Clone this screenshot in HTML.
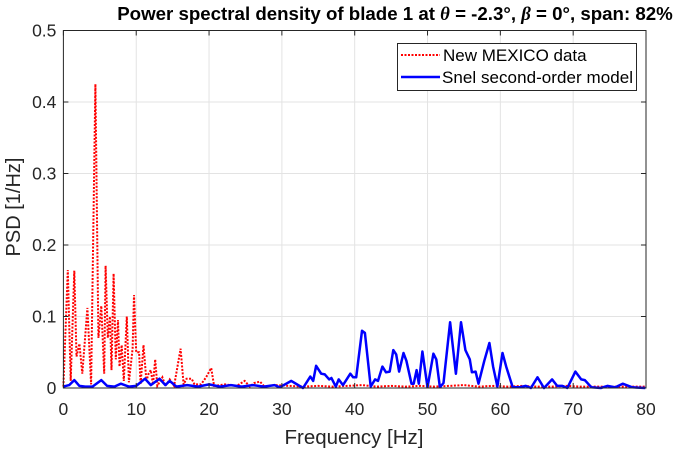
<!DOCTYPE html>
<html><head><meta charset="utf-8"><style>
body{margin:0;background:#fff;}
svg text{font-family:"Liberation Sans",Arial,sans-serif;}
</style></head><body>
<svg id="chart" width="682" height="453" xmlns="http://www.w3.org/2000/svg">
<rect width="682" height="453" fill="#fff"/>
<g id="grid"></g>
<g id="series"></g>
<rect x="63.4" y="30.5" width="582.6" height="357.5" fill="none" stroke="#262626" stroke-width="1"/>
<g id="ticks"></g>
<text x="395" y="20" text-anchor="middle" font-size="18.7" font-weight="bold" fill="#000">Power spectral density of blade 1 at <tspan font-family="Liberation Serif" font-style="italic">θ</tspan> = -2.3°, <tspan font-family="Liberation Serif" font-style="italic">β</tspan> = 0°, span: 82%</text>
<text x="354" y="444" text-anchor="middle" font-size="20.5" fill="#262626">Frequency [Hz]</text>
<text transform="translate(20,207) rotate(-90)" text-anchor="middle" font-size="20" fill="#262626">PSD [1/Hz]</text>
<g>
<rect x="397.5" y="43.5" width="239" height="47" fill="#fff" stroke="#262626" stroke-width="1"/>
<line x1="401" y1="55" x2="440" y2="55" stroke="#ff0000" stroke-width="2" stroke-dasharray="2,1.5"/>
<text x="443" y="61" font-size="17" fill="#000">New MEXICO data</text>
<line x1="401" y1="77" x2="440" y2="77" stroke="#0000ff" stroke-width="2.5"/>
<text x="442" y="83" font-size="17" textLength="191" fill="#000">Snel second-order model</text>
</g>
</svg>
<script>
const xTicks=[0,10,20,30,40,50,60,70,80];
const yTicks=[0,0.1,0.2,0.3,0.4,0.5];
const yTickLabels=["0","0.1","0.2","0.3","0.4","0.5"];
const redFreq=[0,0.6,1.0,1.5,1.8,2.2,2.6,3.3,3.8,4.4,4.8,5.2,5.6,5.8,6.1,6.4,6.6,6.9,7.2,7.5,7.7,8.0,8.3,8.7,9.0,9.5,9.7,10.0,10.4,10.6,11.0,11.4,11.7,12.0,12.3,12.6,12.9,13.6,14.0,14.6,15.2,16.1,16.5,16.9,17.6,18.0,18.9,19.6,20.3,20.7,22.2,23.8,24.9,25.6,26.2,27.0,27.6,29,31,33,35,37,39,41,43,45,47,49,51,53,55,57,59,61,63,65,67,69,71,73,75,77,79,80];
const redVal=[0.002,0.165,0.01,0.164,0.044,0.062,0.02,0.112,0.005,0.425,0.07,0.115,0.02,0.171,0.07,0.1,0.025,0.16,0.04,0.095,0.03,0.06,0.01,0.1,0.008,0.055,0.13,0.05,0.05,0.005,0.06,0.01,0.02,0.025,0.005,0.04,0.003,0.015,0.003,0.012,0.003,0.055,0.005,0.013,0.013,0.005,0.005,0.015,0.028,0.003,0.005,0.003,0.01,0.002,0.007,0.009,0.002,0.004,0.003,0.002,0.003,0.002,0.003,0.004,0.002,0.003,0.002,0.003,0.002,0.003,0.004,0.002,0.003,0.002,0.003,0.002,0.002,0.003,0.002,0.002,0.002,0.002,0.002,0.002];
const blueFreq=[0,0.8,1.5,2.2,3,4,5.2,6,7,7.9,9,10,11.2,12,13.2,14,14.6,15.5,17,18.5,20,21.5,23,24.5,26,27.5,29,29.7,31.3,32.9,33.9,34.3,34.7,35.4,35.9,36.5,36.8,37.4,37.8,38.4,39.4,39.8,40.2,41.0,41.4,42.2,42.8,43.2,43.8,44.3,44.8,45.3,45.7,46.1,46.7,47.1,47.8,48.1,48.5,48.8,49.3,50.0,50.8,51.2,51.7,52.2,53.1,53.9,54.6,55.2,55.8,56.1,56.6,57.0,57.8,58.5,59.0,59.6,60.3,60.8,61.7,62.6,63.5,64.2,65.1,66.0,67.1,67.8,68.5,69.2,70.3,71.1,71.6,72.5,73.8,74.7,75.8,76.8,78.1,79.9];
const blueVal=[0.002,0.004,0.011,0.003,0.002,0.002,0.011,0.003,0.002,0.006,0.002,0.003,0.013,0.004,0.013,0.004,0.01,0.002,0.004,0.002,0.005,0.002,0.004,0.002,0.004,0.002,0.004,0.001,0.01,0.0,0.016,0.01,0.031,0.02,0.019,0.012,0.014,0.002,0.012,0.004,0.02,0.015,0.015,0.08,0.077,0.002,0.012,0.01,0.03,0.022,0.023,0.053,0.047,0.023,0.049,0.038,0.006,0.006,0.025,0.006,0.051,0.001,0.048,0.04,0.001,0.007,0.092,0.02,0.092,0.053,0.04,0.022,0.023,0.006,0.038,0.063,0.03,0.002,0.049,0.03,0.001,0.001,0.003,0.0,0.015,0.0,0.012,0.003,0.003,0.0,0.023,0.012,0.011,0.001,0.0,0.003,0.001,0.006,0.001,0.0];
const X0=63.4,X1=646,Y0=388,Y1=30.5;
function xs(f){return X0+(f-0)/(80-0)*(X1-X0);}
function ys(v){return Y0-(v-0)/(0.5-0)*(Y0-Y1);}
const NS="http://www.w3.org/2000/svg";
const grid=document.getElementById('grid'),ticks=document.getElementById('ticks'),ser=document.getElementById('series');
function mk(tag,attrs,parent){const e=document.createElementNS(NS,tag);for(const k in attrs)e.setAttribute(k,attrs[k]);parent.appendChild(e);return e;}
xTicks.forEach(t=>{
  const x=xs(t);
  if(t>0&&t<80){const g=mk('line',{x1:x,y1:Y1,x2:x,y2:Y0,stroke:'#e3e3e3','stroke-width':1},grid);
  
  }
  const tk=mk('line',{x1:x,y1:Y0,x2:x,y2:Y0-5,stroke:'#262626'},ticks);
  
  
  const tk2=mk('line',{x1:x,y1:Y1,x2:x,y2:Y1+5,stroke:'#262626'},ticks);
  
  
  const tl=mk('text',{x:x,y:415,'text-anchor':'middle','font-size':17.5,fill:'#262626'},ticks);
  tl.textContent=t;
  
  
});
yTicks.forEach((t,i)=>{
  const y=ys(t);
  if(t>0&&t<0.5){const g=mk('line',{x1:X0,y1:y,x2:X1,y2:y,stroke:'#e3e3e3','stroke-width':1},grid);
  
  }
  const tk=mk('line',{x1:X0,y1:y,x2:X0+5,y2:y,stroke:'#262626'},ticks);
  
  
  const tk2=mk('line',{x1:X1,y1:y,x2:X1-5,y2:y,stroke:'#262626'},ticks);
  
  
  const tl=mk('text',{x:X0-7,y:y+6,'text-anchor':'end','font-size':17.5,fill:'#262626'},ticks);
  tl.textContent=yTickLabels[i];
  
  
});
function pts(F,V){return F.map((f,i)=>xs(f).toFixed(1)+','+ys(V[i]).toFixed(1)).join(' ');}
const r=mk('polyline',{points:pts(redFreq,redVal),fill:'none',stroke:'#ff0000','stroke-width':2,'stroke-dasharray':'2,1.5'},ser);


const b=mk('polyline',{points:pts(blueFreq,blueVal),fill:'none',stroke:'#0000ff','stroke-width':2.5,'stroke-linejoin':'round'},ser);


</script>
</body></html>
